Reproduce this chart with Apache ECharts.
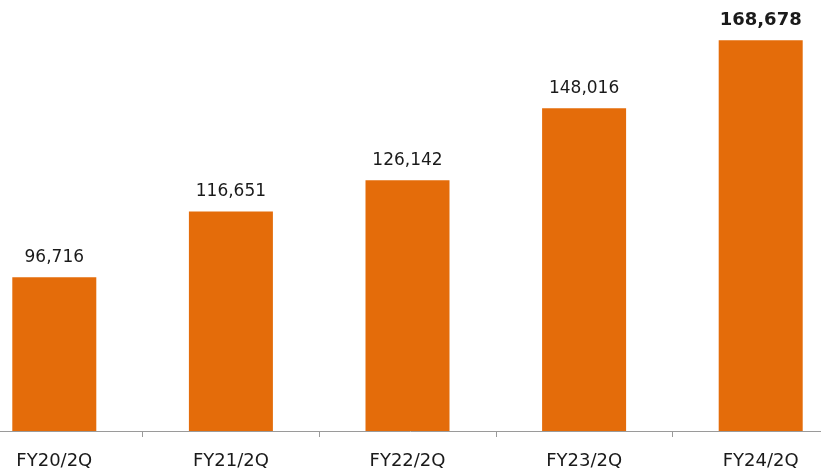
<!DOCTYPE html>
<html>
<head>
<meta charset="utf-8">
<script src="https://cdn.jsdelivr.net/npm/echarts@6/dist/echarts.min.js"></script>
<style>
  html, body { margin: 0; padding: 0; background: #fff; }
  #chart { width: 821px; height: 475px; }
</style>
</head>
<body>
<div id="chart"></div>
<script>
// Half-year (2Q) results by fiscal year
const categories = ['FY20/2Q', 'FY21/2Q', 'FY22/2Q', 'FY23/2Q', 'FY24/2Q'];
const values = [96716, 116651, 126142, 148016, 168678];
const latestIndex = values.length - 1;

const chart = echarts.init(document.getElementById('chart'));

const fmt = v => v.toLocaleString('en-US');

chart.setOption({
  animation: false,
  grid: {
    left: -34, top: 3, width: 883, bottom: 44,
    containLabel: false,
    outerBoundsMode: 'none'
  },
  xAxis: {
    type: 'category',
    data: categories,
    boundaryGap: true,
    axisLine: { lineStyle: { color: '#9a9a9a', width: 1 } },
    axisTick: { show: true, length: 6, lineStyle: { color: '#9a9a9a' } },
    axisLabel: { color: '#1a1a1a', fontSize: 18, fontFamily: 'DejaVu Sans', margin: 21 }
  },
  yAxis: {
    type: 'value',
    min: 50000,
    max: 180000,
    show: false,
    splitLine: { show: false }
  },
  series: [{
    type: 'bar',
    barWidth: 84,
    data: values.map((v, i) => ({
      value: v,
      label: i === latestIndex ? { fontWeight: 'bold', fontSize: 18 } : {}
    })),
    itemStyle: { color: '#E46C0A' },
    label: {
      show: true,
      position: 'top',
      distance: 11,
      color: '#1a1a1a',
      fontSize: 17,
      fontFamily: 'DejaVu Sans',
      formatter: p => fmt(p.value)
    }
  }]
});
</script>
</body>
</html>
